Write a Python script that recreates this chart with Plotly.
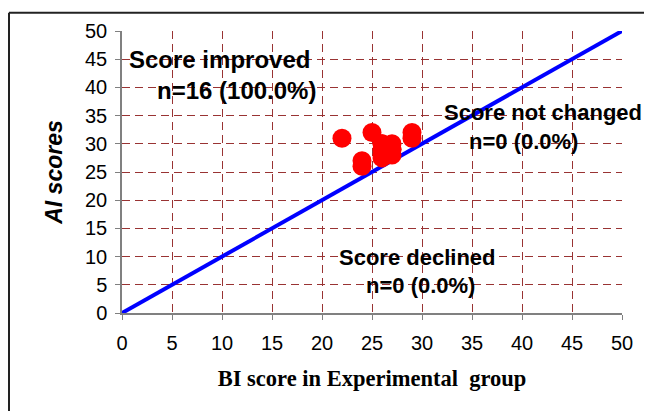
import plotly.graph_objects as go

# Data
bi_scores = [22, 25, 29, 29, 24, 24, 26, 27, 26, 27, 26, 27, 26, 26.5, 27, 26]
ai_scores = [31, 32, 32, 31, 27, 26, 30, 30, 29, 29, 28, 28, 27.5, 29, 29, 30]
line_x = [0, 50]
line_y = [0, 50]
tick_vals = [0, 5, 10, 15, 20, 25, 30, 35, 40, 45, 50]

fig = go.Figure()
fig.add_trace(go.Scatter(x=line_x, y=line_y, mode="lines",
                         line=dict(color="#0000FF", width=4),
                         hoverinfo="skip", showlegend=False, cliponaxis=False))
fig.add_trace(go.Scatter(x=bi_scores, y=ai_scores, mode="markers",
                         marker=dict(color="#FF0000", size=19, line=dict(width=0)),
                         showlegend=False, cliponaxis=False))

annotations = [
    dict(x=0.5, y=44.9, text="<b>Score improved</b>", xanchor="left", size=24),
    dict(x=11.4, y=39.5, text="<b>n=16 (100.0%)</b>", xanchor="center", size=24),
    dict(x=42.1, y=35.6, text="<b>Score not changed</b>", xanchor="center", size=22),
    dict(x=40.1, y=30.4, text="<b>n=0 (0.0%)</b>", xanchor="center", size=22),
    dict(x=29.55, y=9.9, text="<b>Score declined</b>", xanchor="center", size=22),
    dict(x=29.8, y=4.9, text="<b>n=0 (0.0%)</b>", xanchor="center", size=22),
]
for a in annotations:
    sz = a.pop("size")
    a.update(xref="x", yref="y", showarrow=False, yanchor="middle",
             font=dict(family="Liberation Sans, Arial", size=sz, color="#000000"))

axis_common = dict(
    range=[0, 50], tickvals=tick_vals, showgrid=True,
    gridcolor="#993333", gridwidth=1, griddash="8px,5px",
    showline=True, linecolor="#808080", linewidth=1.5,
    ticks="outside", ticklen=5, tickcolor="#808080",
    tickfont=dict(family="Liberation Sans, Arial", size=20, color="#000000"),
    zeroline=False, fixedrange=True,
)

fig.update_layout(
    width=652, height=411,
    margin=dict(l=114, r=38, t=20, b=106, pad=0),
    paper_bgcolor="#FFFFFF", plot_bgcolor="#FFFFFF",
    xaxis=dict(**axis_common, ticklabelstandoff=6,
               title=dict(text="<b>BI score in Experimental\u00a0 group</b>",
                          font=dict(family="Liberation Serif, Times New Roman", size=22.5, color="#000000"),
                          standoff=17)),
    yaxis=dict(**axis_common, ticklabelstandoff=4,
               title=dict(text="<b><i>AI scores</i></b>",
                          font=dict(family="Liberation Sans, Arial", size=23, color="#000000"),
                          standoff=16)),
    annotations=annotations,
    shapes=[
        dict(type="line", xref="paper", yref="paper", x0=-0.226, x1=1.1, y0=1.065, y1=1.065,
             line=dict(color="#222222", width=2)),
        dict(type="line", xref="paper", yref="paper", x0=-0.226, x1=-0.226, y0=1.065, y1=-0.4,
             line=dict(color="#222222", width=2)),
    ],
)

fig.write_html("out.html")
